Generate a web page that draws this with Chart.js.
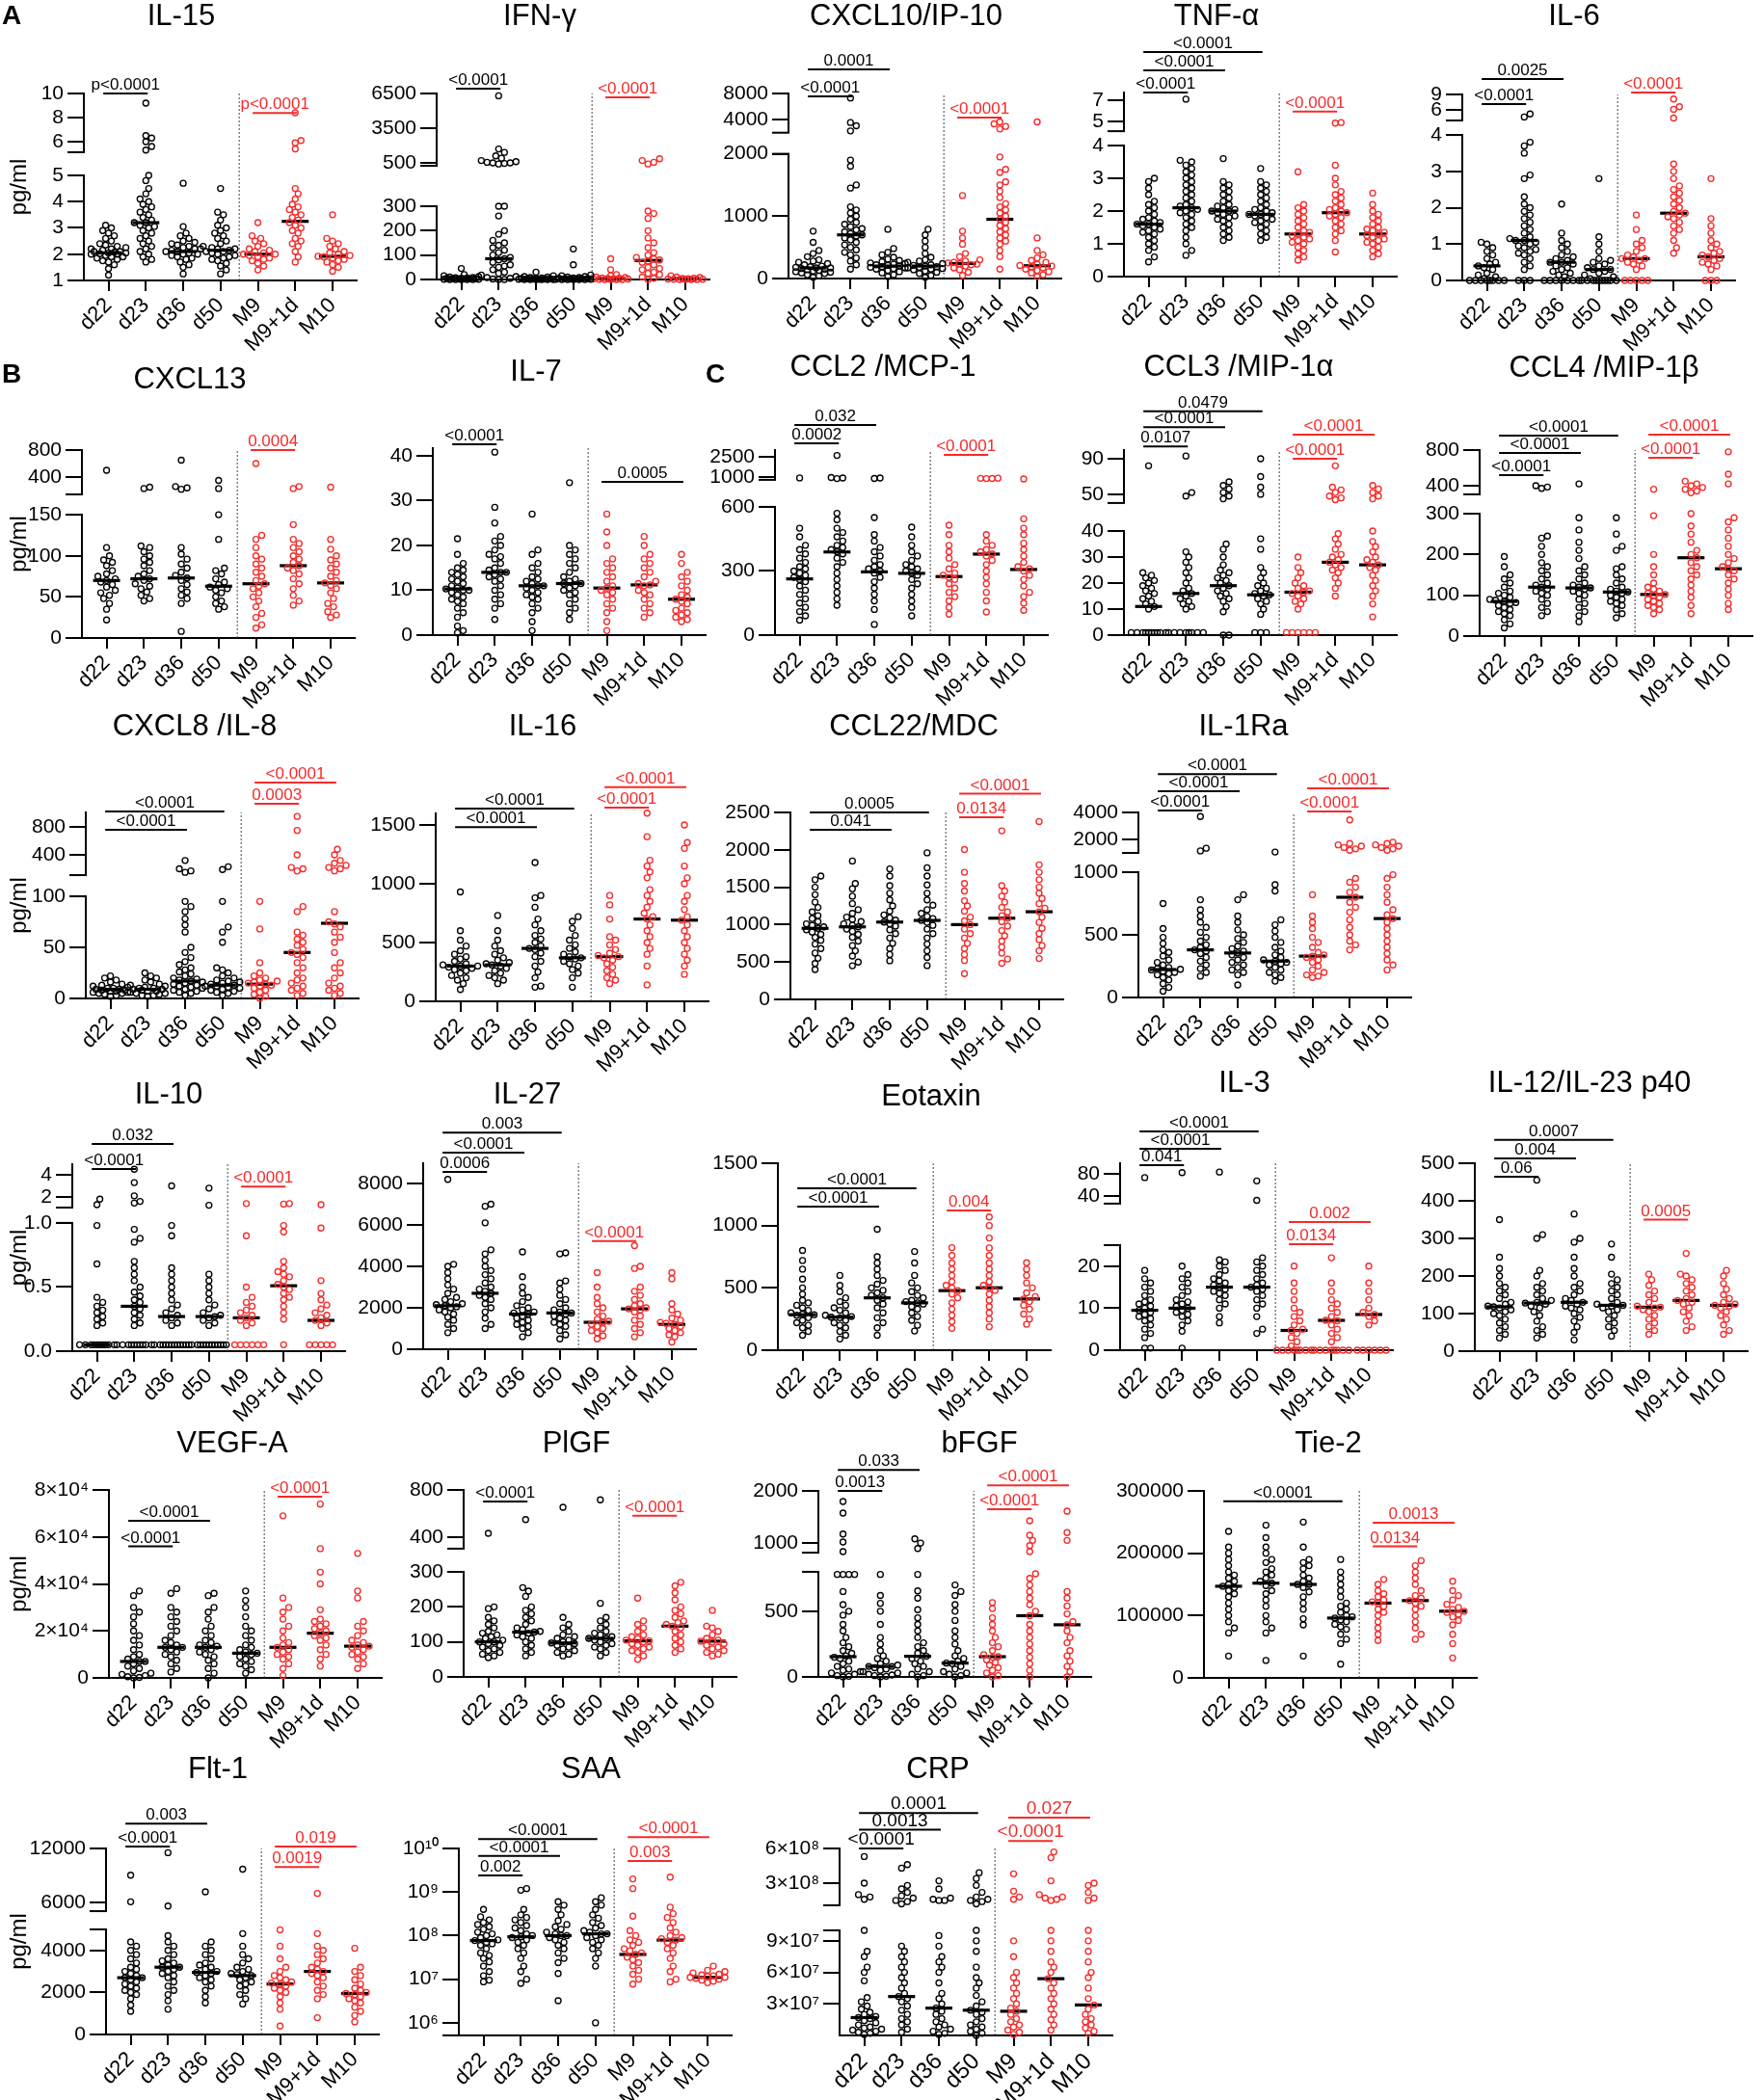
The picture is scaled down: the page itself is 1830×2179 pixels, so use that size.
<!DOCTYPE html>
<html>
<head>
<meta charset="utf-8">
<script src="https://cdn.jsdelivr.net/npm/chart.js@4.4.1/dist/chart.umd.min.js"></script>
<style>
html, body { margin: 0; padding: 0; background: #fff; }
#fig { position: relative; width: 1830px; height: 2179px; overflow: hidden; font-family: 'Liberation Sans', Arial, sans-serif; color: #000; }
#fig canvas { position: absolute; }
.ttl { position: absolute; transform: translate(-50%, -50%); font-size: 31px; white-space: nowrap; }
.let { position: absolute; transform: translate(-50%, -50%); font-size: 28px; font-weight: bold; }
</style>
</head>
<body>
<div id="fig"></div>
<script>
// groups on the x axis
const groups = ['d22', 'd23', 'd36', 'd50', 'M9', 'M9+1d', 'M10'];

// ---- values (one array per group) ----
const il15 = [
  [1.2,1.45,1.6,1.7,1.75,1.8,1.85,1.9,1.9,1.95,2.0,2.0,2.02,2.05,2.05,2.08,2.1,2.1,2.15,2.2,2.2,2.25,2.3,2.35,2.4,2.5,2.6,2.7,2.8,2.9,3.0,3.1],
  [1.7,1.8,1.9,2.0,2.1,2.2,2.3,2.4,2.5,2.6,2.7,2.8,2.9,3.0,3.05,3.1,3.2,3.2,3.3,3.4,3.5,3.6,3.7,3.8,3.9,4.0,4.1,4.3,4.5,4.8,5.0,5.3,5.6,6.0,6.3,6.5,9.2],
  [1.25,1.5,1.6,1.7,1.8,1.85,1.9,1.95,2.0,2.0,2.05,2.1,2.1,2.15,2.2,2.2,2.25,2.3,2.35,2.4,2.45,2.5,2.6,2.7,2.8,3.05,4.7],
  [1.25,1.4,1.55,1.65,1.75,1.8,1.85,1.9,1.95,2.0,2.05,2.1,2.1,2.15,2.2,2.2,2.25,2.3,2.4,2.5,2.6,2.7,2.8,2.9,3.0,3.1,3.3,3.5,3.6,4.5],
  [1.4,1.55,1.65,1.75,1.8,1.85,1.9,1.95,2.0,2.0,2.05,2.1,2.15,2.2,2.3,2.4,2.5,2.6,2.7,3.2],
  [1.7,1.9,2.1,2.3,2.4,2.5,2.6,2.8,2.9,3.0,3.1,3.2,3.3,3.4,3.5,3.6,3.7,3.8,3.9,4.1,4.3,4.5,5.4,5.9,6.1,8.4],
  [1.35,1.5,1.6,1.7,1.75,1.8,1.85,1.9,1.92,1.95,2.0,2.05,2.1,2.2,2.3,2.4,2.5,2.6,3.5]
];
const il15Med = [2.05, 3.2, 2.1, 2.15, 2.0, 3.25, 1.92];
const il15Ticks = [1, 2, 3, 4, 5, 6, 8, 10];

const ifng = [
  [0,0,0,0,0,1,1,2,2,3,3,4,5,5,6,7,8,10,12,15,20,45],
  [0,0,2,5,8,12,18,25,30,40,50,55,60,70,80,85,90,100,110,120,130,140,150,160,185,200,260,300,300,400,450,500,500,550,600,700,900,1100,1400,1700,6300],
  [0,0,0,0,0,0,1,1,2,2,3,3,4,5,6,8,10,12,15,30],
  [0,0,0,0,0,1,1,2,2,3,3,4,5,6,8,10,12,15,18,60,125],
  [0,0,0,0,1,2,2,3,4,5,6,8,10,15,20,40,85],
  [0,5,10,20,25,30,40,45,50,60,70,75,80,85,90,100,110,130,150,170,200,250,270,280,400,550,700,850],
  [0,0,0,0,1,1,2,3,4,5,8,10,15]
];
const ifngMed = [3, 85, 2, 3, 3, 78, 2];
const ifngTicks = [0, 100, 200, 300, 500, 3500, 6500];

const cxcl10 = [
  [20,40,60,80,90,100,110,120,130,140,150,160,170,170,180,190,200,220,240,260,280,300,350,400,450,580,760],
  [150,220,280,330,380,420,460,500,540,580,620,650,680,700,720,750,780,800,830,870,900,950,1000,1050,1100,1150,1450,1500,1800,1900,2200,3000,3500,7300],
  [30,60,90,110,130,150,160,170,180,190,200,210,220,230,240,250,270,290,310,340,380,420,480,790],
  [20,50,80,100,120,140,150,160,170,180,190,200,210,220,240,260,280,300,340,400,500,600,700,790],
  [50,100,140,170,200,220,230,240,250,260,280,300,350,400,550,650,760,1330],
  [150,350,450,550,600,650,700,750,800,850,900,950,1000,1050,1100,1150,1200,1300,1400,1500,1550,1700,1750,1950,2500,2900,3300,3600],
  [30,60,90,110,130,150,170,190,200,210,230,260,290,330,380,450,650,3600]
];
const cxcl10Med = [170, 700, 200, 200, 240, 950, 205];
const cxcl10Ticks = [0, 1000, 2000, 4000, 8000];

const tnfa = [
  [0.45,0.6,0.8,0.9,1.0,1.1,1.2,1.3,1.35,1.4,1.45,1.5,1.55,1.6,1.6,1.65,1.7,1.75,1.8,1.9,2.0,2.1,2.2,2.3,2.5,2.7,2.9,3.0],
  [0.65,0.8,1.0,1.2,1.4,1.5,1.6,1.7,1.8,1.9,1.95,2.0,2.05,2.1,2.15,2.2,2.3,2.4,2.5,2.6,2.7,2.8,2.9,3.0,3.1,3.2,3.3,3.4,3.5,3.55,7.1],
  [1.1,1.2,1.3,1.4,1.5,1.6,1.7,1.75,1.8,1.85,1.9,1.95,2.0,2.0,2.05,2.1,2.15,2.2,2.3,2.4,2.5,2.6,2.7,2.8,2.9,3.6],
  [1.1,1.2,1.3,1.4,1.5,1.6,1.65,1.7,1.75,1.8,1.85,1.9,1.9,1.95,2.0,2.05,2.1,2.2,2.3,2.4,2.5,2.6,2.7,2.8,2.9,3.3],
  [0.5,0.6,0.7,0.8,0.9,1.0,1.05,1.1,1.15,1.2,1.25,1.3,1.35,1.4,1.5,1.6,1.7,1.8,1.9,2.0,2.1,2.2,3.2],
  [0.75,1.1,1.3,1.4,1.5,1.6,1.7,1.8,1.85,1.9,1.95,2.0,2.05,2.1,2.2,2.3,2.4,2.5,2.6,2.8,3.0,3.4,4.85,4.9],
  [0.6,0.7,0.8,0.9,1.0,1.05,1.1,1.15,1.2,1.25,1.3,1.35,1.4,1.45,1.5,1.6,1.7,1.8,1.9,2.0,2.2,2.55]
];
const tnfaMed = [1.6, 2.1, 2.0, 1.9, 1.3, 1.95, 1.3];
const tnfaTicks = [0, 1, 2, 3, 4, 5, 7];

const il6 = [
  [0,0,0,0,0,0,0,0,0.05,0.1,0.15,0.2,0.3,0.35,0.4,0.45,0.5,0.6,0.7,0.8,0.9,1.0,1.05],
  [0,0,0,0.3,0.4,0.5,0.6,0.7,0.75,0.8,0.85,0.9,0.95,1.0,1.05,1.1,1.1,1.15,1.2,1.3,1.4,1.5,1.6,1.7,1.8,1.9,2.0,2.1,2.3,2.8,2.9,3.5,3.7,3.8,4.6,5.2],
  [0,0,0,0,0,0,0,0.1,0.15,0.2,0.25,0.3,0.35,0.4,0.45,0.5,0.5,0.55,0.6,0.65,0.7,0.8,0.9,1.0,1.1,1.3,2.1],
  [0,0,0,0,0,0,0,0,0,0,0.05,0.1,0.15,0.2,0.25,0.3,0.3,0.35,0.4,0.45,0.5,0.55,0.6,0.8,1.0,1.2,2.8],
  [0,0,0,0,0,0.3,0.4,0.45,0.5,0.55,0.6,0.6,0.65,0.7,0.8,0.9,1.0,1.1,1.4,1.8],
  [0.75,0.9,1.1,1.3,1.4,1.5,1.6,1.7,1.75,1.8,1.85,1.9,2.0,2.1,2.2,2.3,2.4,2.5,2.6,2.8,3.0,3.2,4.4,6.1,6.6,8.1],
  [0,0,0,0.3,0.4,0.45,0.5,0.55,0.6,0.65,0.7,0.75,0.8,0.9,1.0,1.1,1.3,1.5,1.7,2.8]
];
const il6Med = [0.4, 1.1, 0.5, 0.3, 0.6, 1.85, 0.65];
const il6Ticks = [0, 1, 2, 3, 4, 6, 9];

const cxcl13 = [
  [22,35,42,48,52,55,58,62,65,68,70,72,75,78,82,88,92,95,100,110,500],
  [45,48,52,56,60,63,66,70,72,75,78,82,88,92,96,100,105,110,112,230,250],
  [8,42,48,52,56,60,65,70,73,76,80,85,90,96,102,110,220,240,260,650],
  [35,38,42,45,50,55,58,60,62,65,68,72,78,82,85,120,150,230,350],
  [12,16,25,30,38,45,50,55,60,63,66,70,75,80,85,90,96,100,110,120,125,600],
  [40,45,52,60,66,72,78,82,85,88,92,96,100,105,110,115,120,138,230,260],
  [25,28,32,38,42,48,55,60,64,67,70,75,80,85,90,95,100,108,120,250]
];
const cxcl13Med = [70, 72, 73, 63, 66, 88, 67];
const cxcl13Ticks = [0, 50, 100, 150, 400, 800];

const il7 = [
  [0.5,1,2,4,5,6,7,7.5,8,8.5,9,9.5,10,10,10.3,10.5,11,11.5,12,12.5,13,13.5,14,14.5,15,16,18,21.5],
  [3.5,6,7,8,9,10,11,12,12.5,13,13.5,14,14,14.5,15,16,17,17.5,18,19,20,21,22,25,28.5,40.8],
  [1,3,5,6,7,8,8.5,9,9.5,10,10.5,11,11,11.5,12,12.5,13,14,15,16,18,19,27],
  [3.5,5,6,7,8,9,9.5,10,10.5,11,11.5,11.5,12,12.5,13,14,15,16,17,18,19,20,34],
  [1,3,5,6,7,8,9,9.5,10,10.5,11,12,13,14,15,16,17,20,23,27],
  [4,5,6,7,8,9,9.5,10,11,11.2,11.5,12,13,14,15,16,17,18,20,22],
  [3,3.5,4,4.5,5,5.5,6,7,7.5,8,8.5,9,10,11,12,13,14,16,18]
];
const il7Med = [10.3, 14, 11, 11.5, 10.5, 11.2, 8];
const il7Ticks = [0, 10, 20, 30, 40];

const ccl2 = [
  [70,90,110,130,150,170,190,210,230,250,260,270,280,290,300,310,320,340,360,380,400,420,460,500,930],
  [140,170,200,230,260,290,320,340,360,380,390,400,410,420,440,460,480,500,540,570,880,920,960,2600],
  [50,120,160,190,220,250,270,290,300,310,320,330,350,370,390,410,440,470,550,890,920],
  [90,130,160,190,220,240,260,280,290,300,310,320,330,350,370,390,420,460,505],
  [98,130,160,180,200,220,240,260,270,280,290,310,330,360,390,420,470,514],
  [108,160,200,240,270,300,330,350,370,380,390,400,420,440,470,880,890,900,910],
  [116,150,180,200,230,260,280,300,310,320,340,370,400,430,470,500,544,850]
];
const ccl2Med = [263, 389, 296, 289, 274, 379, 307];
const ccl2Ticks = [0, 300, 600, 1000, 2500];

const ccl3 = [
  [1,1,1,1,1,1,1,1,1,1,10,11,12,13,14,15,16,17,18,19,20,21,22,23,24,82],
  [1,1,1,1,1,1,1,1,10,11,12,13,14,15,16,17,18,20,22,24,26,28,30,32,48,52,93],
  [0,0,9,11,13,14,15,16,17,18,19,20,21,22,23,24,25,27,30,33,35,45,48,52,56,60,64],
  [1,1,1,8,10,12,13,14,15,15.5,16,17,18,19,20,22,24,26,33,37,50,58,70,90],
  [1,1,1,1,1,1,10,12,13,14,15,16,16.5,17,18,19,20,22,24,26,30],
  [15,18,20,22,24,25,26,27,28,29,30,31,33,35,37,39,44,46,48,52,55,58,82],
  [7,12,15,17,19,21,23,25,26,27,28,29,30,32,34,36,40,45,48,52,56,60]
];
const ccl3Med = [11, 16, 19, 15.5, 16.5, 28, 27];
const ccl3Ticks = [0, 10, 20, 30, 40, 50, 90];

const ccl4 = [
  [20,30,40,50,55,60,65,70,75,80,82,85,88,90,95,100,105,110,120,130,140,150,170,195],
  [50,60,70,80,90,100,105,110,115,120,125,130,140,150,160,170,180,200,220,240,245,370,385,400],
  [35,50,60,70,80,90,100,105,110,115,118,120,125,130,140,150,160,170,190,210,230,260,290,420],
  [45,55,65,75,80,85,90,95,100,105,108,110,115,120,130,140,150,165,170,210,220,250,290],
  [55,65,70,75,80,85,90,95,100,102,105,110,115,120,130,150,170,200,295,360],
  [55,75,95,110,125,140,150,160,170,180,192,200,210,230,250,270,300,320,340,360,380,400,420,450],
  [65,80,100,115,130,140,150,160,165,170,180,190,200,220,240,260,280,290,420,530,780]
];
const ccl4Med = [85, 120, 118, 108, 102, 192, 165];
const ccl4Ticks = [0, 100, 200, 300, 400, 800];

const cxcl8 = [
  [2,3,4,5,5,6,6,7,7,8,8,9,9,10,10,11,12,13,14,16,18,20,22],
  [2,3,3,4,5,5,6,7,7,8,9,9,10,10,11,12,13,14,16,18,20,22,25],
  [3,5,6,7,8,9,10,11,12,13,14,15,16,17,18,19,20,22,24,26,28,30,33,36,40,45,50,65,72,78,85,90,95,150,170,200,320],
  [3,5,6,7,8,9,10,11,12,12,13,14,15,16,17,18,20,22,25,28,30,55,65,70,95,190,230],
  [0,2,4,6,8,10,12,13,14,15,16,17,18,20,22,25,35,68,95],
  [3,5,8,10,12,15,18,20,25,30,35,40,43,45,48,52,55,58,62,65,85,90,170,200,220,400,750,950],
  [3,5,8,10,12,15,20,25,30,35,45,55,60,65,70,73,75,85,170,200,220,250,280,320,400,480]
];
const cxcl8Med = [9, 9, 17, 13, 14, 45, 73.6];
const cxcl8Ticks = [0, 50, 100, 400, 800];

const il16 = [
  [100,150,180,200,220,240,260,270,280,290,300,300,310,320,340,360,380,400,430,470,520,600,930],
  [150,180,200,220,240,260,280,300,310,320,330,350,370,400,430,470,520,600,730],
  [120,130,200,250,300,340,380,410,440,450,470,500,530,560,600,650,700,800,880,900,1180],
  [120,200,240,270,300,320,340,360,370,380,400,420,450,480,520,560,620,680,720],
  [150,180,200,230,260,290,320,350,370,380,390,410,440,480,520,550,700,820,900],
  [140,300,400,450,500,550,600,650,700,720,750,800,850,900,950,1050,1100,1150,1200,1400,1600],
  [230,300,350,400,450,500,550,600,650,690,720,780,850,900,1000,1050,1150,1300,1350,1500]
];
const il16Med = [300, 310, 450, 370, 380, 700, 690];
const il16Ticks = [0, 500, 1000, 1500];

const ccl22 = [
  [400,480,550,620,680,740,790,830,870,900,930,950,970,990,1010,1040,1080,1120,1170,1230,1300,1400,1500,1600,1650],
  [450,500,580,650,720,780,830,870,910,940,970,990,1010,1040,1070,1100,1150,1200,1280,1380,1480,1550,1850],
  [517,600,680,750,820,880,930,980,1010,1034,1060,1090,1130,1180,1250,1330,1420,1520,1650,1745],
  [452,560,650,740,820,880,940,990,1030,1056,1080,1110,1150,1200,1260,1330,1420,1530,1650,1760,1960],
  [345,520,600,680,750,820,880,940,1000,1050,1100,1180,1250,1320,1450,1550,1700,2004],
  [483,540,620,700,780,850,920,980,1040,1086,1120,1170,1230,1300,1380,1450,1520,2254],
  [547,650,720,800,880,950,1030,1100,1172,1220,1280,1350,1420,1500,1600,1700,1800,2379]
];
const ccl22Med = [950, 970, 1034, 1056, 1000, 1086, 1172];
const ccl22Ticks = [0, 500, 1000, 1500, 2000, 2500];

const il1ra = [
  [50,80,110,140,160,180,190,200,210,220,225,230,240,260,280,300,330,360,380,430,480,550,750],
  [170,200,230,260,290,320,350,370,380,400,420,450,480,520,560,600,650,700,780,1150,1350,3700],
  [100,180,200,220,240,260,280,300,320,340,355,370,390,410,440,470,500,540,600,650,780,820],
  [130,160,180,200,220,240,260,270,280,290,300,320,340,370,400,440,480,530,580,620,850,900,1070],
  [160,170,180,200,220,250,280,300,320,330,340,360,400,440,480,550,600,650,820],
  [380,420,450,500,560,620,680,720,760,800,840,880,920,950,1200,1300,1400,1500,1600,1700,3450],
  [220,260,300,350,400,450,500,550,600,630,660,700,760,820,880,950,980,1200,1300,1400,1500,1600,1700,1800]
];
const il1raMed = [223, 380, 355, 290, 330, 800, 630];
const il1raTicks = [0, 500, 1000, 2000, 4000];

const il10 = [
  [0.05,0.05,0.05,0.05,0.05,0.05,0.05,0.05,0.05,0.05,0.2,0.22,0.25,0.27,0.3,0.32,0.35,0.38,0.42,0.68,0.98,1.3,1.8],
  [0.05,0.05,0.05,0.05,0.05,0.05,0.05,0.05,0.05,0.05,0.2,0.22,0.25,0.28,0.3,0.33,0.35,0.38,0.4,0.43,0.46,0.5,0.55,0.6,0.65,0.7,0.85,0.88,0.95,1.45,1.6,2.1,3.3,4.5],
  [0.05,0.05,0.05,0.05,0.05,0.05,0.05,0.05,0.05,0.05,0.05,0.05,0.2,0.22,0.24,0.26,0.28,0.3,0.33,0.36,0.4,0.45,0.5,0.55,0.6,0.65,0.9,0.98,3.0],
  [0.05,0.05,0.05,0.05,0.05,0.05,0.05,0.05,0.05,0.05,0.05,0.05,0.2,0.22,0.24,0.26,0.27,0.28,0.3,0.33,0.36,0.4,0.45,0.5,0.55,0.6,1.25,2.8],
  [0.05,0.05,0.05,0.05,0.05,0.05,0.2,0.22,0.24,0.26,0.28,0.3,0.32,0.35,0.38,0.42,0.5,0.9,1.4],
  [0.05,0.25,0.3,0.35,0.4,0.42,0.45,0.48,0.5,0.52,0.55,0.58,0.6,0.62,0.65,0.7,0.93,0.98,1.35,1.4],
  [0.05,0.05,0.05,0.05,0.05,0.2,0.22,0.24,0.26,0.28,0.3,0.33,0.36,0.4,0.45,0.55,0.96,1.3]
];
const il10Med = [0.05, 0.35, 0.27, 0.27, 0.26, 0.51, 0.24];
const il10Ticks = [0, 0.5, 1, 2, 4];
const il10Labels = ['0.0', '0.5', '1.0', '2', '4'];

const il27 = [
  [800,1000,1200,1400,1550,1700,1800,1900,2000,2050,2100,2150,2200,2300,2400,2500,2700,2900,3100,3400,3700,4000,4100,8200],
  [1000,1200,1500,1800,2000,2200,2400,2500,2600,2700,2800,2900,3000,3200,3400,3600,3800,4000,4300,4600,4800,6100,6900,7000],
  [600,800,1000,1100,1200,1300,1400,1500,1600,1700,1750,1800,1900,2000,2100,2300,2500,2700,3000,3500,4700],
  [500,700,900,1100,1200,1300,1400,1500,1600,1700,1750,1800,1900,2000,2200,2400,2600,2900,3200,3300,4600,4650],
  [500,650,800,900,1000,1100,1200,1300,1350,1450,1600,1800,2000,2200,2500,3000,3700],
  [600,800,1000,1200,1400,1600,1800,1900,1950,2000,2100,2200,2400,2600,2800,3000,3900,4000,5000],
  [350,600,700,800,900,1000,1100,1200,1250,1300,1400,1500,1700,1900,2200,3400,3700]
];
const il27Med = [2100, 2700, 1700, 1750, 1300, 1950, 1200];
const il27Ticks = [0, 2000, 4000, 6000, 8000];

const eotaxin = [
  [120,150,180,200,220,240,260,280,285,290,300,320,340,360,380,400,450,500,570,650,720,800],
  [90,120,150,180,200,220,240,260,265,270,280,300,320,340,360,390,420,470,520,600],
  [120,180,220,260,300,340,370,400,420,440,460,480,500,530,560,600,650,700,750,970],
  [154,200,240,270,300,330,350,370,380,390,400,420,440,470,500,540,600,700,792],
  [175,230,280,330,380,420,450,478,500,520,550,600,650,700,760,823],
  [188,250,300,350,400,450,480,501,520,550,600,650,700,760,820,900,1000,1069],
  [208,250,290,330,360,390,411,430,460,500,540,600,650,702]
];
const eotaxinMed = [285, 265, 420, 380, 478, 501, 411];
const eotaxinTicks = [0, 500, 1000, 1500];

const il3 = [
  [0.5,0.5,3,4,5,6,7,7.5,8,8.5,9,9.5,10,10.5,11,11.5,12,13,14,15,16,17,19,73],
  [0.5,4.5,6,7,8,8.5,9,9.5,10,10.5,11,11.5,12,13,14,15,16,17,18,20,82],
  [6.5,8,10,11,12,13,13.5,14,14.5,15,15.5,16,16.5,17,18,19,20,21,21.5,83],
  [4,5,8,10,11,12,13,14,14.5,15,15.5,16,17,18,19,20,21,22,32,67],
  [0,0,0,0,0,0,0,0,1,2,3,4,4.7,5,6,7,8,9,10,12,14,16,20],
  [0,0,0,0,0,0,0,0,2,3,4,5,6,7,7.1,8,9,10,11,12,14,16,22],
  [0,0,0,0,0,0,6,7,8,8.5,9,10,12,14,16,20]
];
const il3Med = [9.5, 10, 15, 15, 4.7, 7.1, 8.5];
const il3Ticks = [0, 10, 20, 40, 80];

const il12 = [
  [35,45,55,65,75,85,95,100,105,110,115,118,120,125,130,140,150,160,170,180,200,220,250,350],
  [35,45,55,65,80,95,105,115,120,125,128,130,135,140,150,160,170,180,200,215,300,310,455],
  [30,50,65,80,90,100,110,115,120,125,130,135,140,150,160,170,180,200,220,250,290,300,365],
  [40,55,65,75,85,95,105,110,115,120,122,125,130,140,150,160,170,180,190,205,250,285],
  [45,55,65,75,85,95,105,110,115,117,120,130,140,150,160,175,190,205],
  [55,65,80,95,105,115,125,130,135,140,150,160,170,180,190,200,205,260],
  [45,55,70,85,95,105,115,120,122,125,130,140,150,165,180,200,215]
];
const il12Med = [118, 128, 130, 122, 117, 135, 122];
const il12Ticks = [0, 100, 200, 300, 400, 500];

const vegfa = [
  [0,200,500,1000,1500,2000,3000,4000,5000,6000,7000,7000,8000,9000,10000,12000,14000,16000,18000,20000,23000,26000,28000,30000,35000,37000],
  [2500,4000,6000,7500,9000,10000,11000,12000,13000,13000,14000,15000,16000,18000,20000,22000,24000,26000,28000,30000,36000,38000],
  [0,2000,4000,6000,7500,9000,10000,11000,12000,13000,13500,14000,15000,16000,18000,20000,22000,25000,28000,30000,35000,36000],
  [2000,3500,5000,6000,7000,8000,9000,10000,10500,11000,12000,13000,14000,16000,18000,20000,22000,26000,30000,33000,37000],
  [1000,4000,6000,8000,9000,10000,11000,12000,13000,14000,15000,17000,20000,22000,25000,28000,30000,34000,69000],
  [5000,8000,10000,12000,14000,16000,17000,18000,19000,20000,21000,22000,23000,24000,25000,29000,40000,45000,55000,74000],
  [4000,6000,8000,9000,10000,11000,12000,13000,13500,14000,15000,16000,18000,20000,22000,24000,34000,37000,53000]
];
const vegfaMed = [7000, 13000, 13000, 10500, 13000, 19000, 13500];
const vegfaTicks = [0, 20000, 40000, 60000, 80000];
const vegfaLabels = ['0', '2×10⁴', '4×10⁴', '6×10⁴', '8×10⁴'];

const plgf = [
  [55,60,65,70,75,80,85,90,95,100,100,105,110,115,120,125,130,140,150,160,170,195,200,432],
  [60,70,80,90,100,110,115,120,125,128,130,135,140,150,160,170,180,190,200,230,245,255,549],
  [60,65,70,75,80,85,90,95,97,100,105,110,115,120,130,140,150,170,653],
  [60,70,80,85,90,95,100,105,110,110,115,120,125,130,140,150,160,170,210,716],
  [50,60,70,75,80,85,90,95,100,103,105,110,115,120,130,140,150,160,225],
  [70,80,90,100,110,120,130,140,145,150,155,160,170,180,190,200,220,240,260,270],
  [60,65,70,75,80,85,90,95,100,102,105,110,120,130,140,145,190]
];
const plgfMed = [100, 128, 97, 110, 103, 145, 102];
const plgfTicks = [0, 100, 200, 300, 400, 800];

const bfgf = [
  [0,5,10,20,30,40,50,60,80,100,120,140,150,160,180,200,230,260,300,350,400,470,500,550,650,780,780,780,780,834,1019,1172,1574,1796],
  [0,5,10,15,20,30,40,50,60,70,80,80,90,100,120,140,160,200,250,300,400,500,560,620,780],
  [0,10,20,40,60,80,100,120,140,157,180,200,230,260,300,350,400,450,512,600,655,780,895,1000,1080],
  [0,10,20,30,40,60,80,100,105,120,140,160,200,250,300,350,430,500,550,620,650,700],
  [0,10,30,50,70,90,110,130,150,154,170,200,230,260,300,350,400,450,520,566],
  [0,50,100,150,200,250,300,350,400,466,500,550,600,650,700,750,785,834,950,1050,1150,1426],
  [0,40,80,120,160,200,260,300,350,397,420,480,540,600,650,1050,1200,1611]
];
const bfgfMed = [154, 80, 157, 105, 154, 466, 397];
const bfgfTicks = [0, 500, 1000, 2000];

const tie2 = [
  [35000,72000,80000,90000,100000,110000,120000,130000,135000,140000,145000,147000,150000,155000,160000,165000,170000,180000,190000,200000,210000,235000],
  [28000,72000,80000,90000,100000,115000,125000,135000,140000,148000,152000,155000,160000,165000,170000,175000,185000,190000,200000,210000,225000,245000],
  [35000,85000,95000,110000,120000,130000,138000,145000,150000,150000,155000,160000,165000,175000,180000,185000,190000,210000,250000],
  [22000,55000,62000,70000,78000,82000,86000,90000,93000,96000,98000,100000,105000,110000,115000,120000,130000,140000,150000,160000,170000,190000],
  [60000,70000,80000,90000,100000,105000,110000,115000,120000,122000,125000,130000,135000,140000,150000,158000],
  [62000,70000,80000,90000,100000,110000,115000,120000,124000,128000,132000,140000,150000,160000,170000,180000,188000],
  [32000,55000,70000,85000,92000,98000,102000,105000,107000,110000,113000,118000,125000,132000,140000,155000]
];
const tie2Med = [147000, 152000, 150000, 96000, 120000, 124000, 107000];
const tie2Ticks = [0, 100000, 200000, 300000];

const flt1 = [
  [1100,1400,1700,1900,2000,2100,2200,2300,2400,2500,2600,2700,2700,2800,2900,3000,3100,3200,3400,3600,3800,4000,4200,4400,6074,9027],
  [1200,1600,1900,2100,2300,2500,2700,2800,2900,3000,3100,3200,3200,3300,3400,3500,3600,3800,4000,4200,4400,4700,5600,11530],
  [1500,1800,2100,2300,2500,2600,2700,2800,2900,2950,3000,3100,3200,3300,3400,3600,3800,4000,4200,4400,7180],
  [1450,1700,1900,2100,2300,2400,2500,2600,2700,2800,2850,2900,3000,3100,3200,3400,3600,3800,4200,4800,9700],
  [400,1200,1500,1800,2000,2100,2200,2300,2400,2450,2500,2600,2700,2800,3000,3200,3600,4200,4980],
  [800,1700,1900,2100,2300,2500,2700,2800,2900,3000,3100,3200,3400,3600,3800,4000,4200,4800,7000],
  [600,900,1100,1300,1500,1600,1700,1800,1900,1950,2000,2100,2200,2400,2600,2800,3000,3200,4100]
];
const flt1Med = [2700, 3200, 2950, 2800, 2400, 3000, 1950];
const flt1Ticks = [0, 2000, 4000, 6000, 12000];

const saa = [
  [8.7e6,9.5e6,1.2e7,1.5e7,2e7,2.5e7,3e7,3.5e7,4e7,5e7,6e7,6.5e7,7e7,7.7e7,8e7,9e7,1e8,1.1e8,1.2e8,1.4e8,1.6e8,1.8e8,2e8,2.3e8,2.7e8,4e8],
  [8e6,1e7,1.5e7,2e7,3e7,4e7,5e7,6e7,7e7,8e7,9e7,9.4e7,1e8,1.1e8,1.3e8,1.5e8,1.7e8,2e8,2.3e8,2.6e8,3e8,4e8,1.1e9,1.2e9],
  [3.2e6,1.35e7,2.4e7,3e7,4e7,5e7,6e7,7e7,8e7,9e7,1e8,1e8,1.1e8,1.2e8,1.4e8,1.6e8,1.8e8,2.2e8,3e8,4e8,5e8,6e8],
  [1e6,2e7,3e7,4e7,5e7,6e7,7e7,8e7,9e7,1e8,1.1e8,1.1e8,1.2e8,1.3e8,1.5e8,1.7e8,2e8,2.5e8,3e8,4e8,5e8,6e8,7.4e8],
  [7.7e6,1e7,1.3e7,1.6e7,2e7,2.4e7,2.8e7,3.2e7,3.7e7,4e7,4.5e7,5e7,6e7,7e7,8e7,1e8,1.3e8,2.8e8,1.2e9,2e9],
  [8.7e6,1e7,1.5e7,2e7,3e7,4e7,5e7,6e7,7e7,7.9e7,8.5e7,9e7,1e8,1.2e8,1.5e8,2e8,2.6e8,3.2e8,4.5e8,2.2e9],
  [8.3e6,9e6,9.5e6,1e7,1.05e7,1.1e7,1.1e7,1.15e7,1.2e7,1.25e7,1.3e7,1.4e7,1.5e7,1.6e7,2e7]
];
const saaMed = [7.7e7, 9.4e7, 1e8, 1.1e8, 3.7e7, 7.9e7, 1.1e7];
const saaTicks = [1e6, 1e7, 1e8, 1e9, 1e10];
const saaLabels = ['10⁶', '10⁷', '10⁸', '10⁹', '10¹⁰'];

const crp = [
  [1e6,2e6,3e6,4e6,5e6,6e6,7e6,8e6,1e7,1.2e7,1.4e7,1.6e7,1.7e7,1.8e7,2e7,2.2e7,2.5e7,2.8e7,3.2e7,3.6e7,5.2e7,6e7,6.5e7,7.5e7,8e7,1e8,1.6e8,1.8e8,2e8,3e8,5.3e8],
  [3e6,6e6,1e7,1.3e7,1.6e7,2e7,2.4e7,2.8e7,3.2e7,3.5e7,3.7e7,4e7,4.5e7,5e7,5.5e7,6e7,6.5e7,7e7,7.5e7,8e7,8.5e7,1.2e8,1.4e8,1.5e8,1.7e8,1.9e8,2.2e8,2.5e8,2.8e8,4.3e8,4.6e8],
  [1e6,2e6,4e6,6e6,8e6,1e7,1.3e7,1.6e7,2e7,2.3e7,2.6e7,3e7,3.5e7,4e7,5e7,6e7,6.5e7,7e7,7.5e7,8.5e7,9.5e7,1.5e8,1.5e8,1.6e8,1.7e8,2.5e8,3.2e8],
  [0,2e6,4e6,6e6,8e6,1e7,1.3e7,1.6e7,2e7,2.2e7,2.4e7,2.8e7,3.2e7,3.8e7,4.5e7,5e7,5.5e7,6.5e7,8e7,9e7,1e8,1.2e8,1.4e8,1.5e8,1.6e8,1.8e8,2.2e8,2.8e8,3.4e8,3.9e8],
  [1e6,3e6,5e6,8e6,1e7,1.3e7,1.6e7,2e7,2.3e7,2.6e7,3e7,3.5e7,4e7,4.5e7,5e7,5.5e7,6e7,7.5e7,9e7,1.6e8,1.8e8,2.3e8,3.8e8],
  [5e6,1e7,1.5e7,2e7,2.5e7,3e7,3.5e7,4e7,4.5e7,5e7,5.4e7,6e7,6.5e7,7e7,8e7,9e7,1e8,1.5e8,1.6e8,1.7e8,1.8e8,2e8,3.2e8,5.2e8,5.7e8],
  [2e6,4e6,7e6,1e7,1.3e7,1.6e7,2e7,2.5e7,2.9e7,3.5e7,4.5e7,5.5e7,6e7,7e7,8e7,9e7,1e8,1.5e8,1.7e8,2.2e8,2.8e8,3e8]
];
const crpMed = [1.7e7, 3.7e7, 2.6e7, 2.4e7, 2.3e7, 5.4e7, 2.9e7];
const crpTicks = [3e7, 6e7, 9e7, 3e8, 6e8];
const crpLabels = ['3×10⁷', '6×10⁷', '9×10⁷', '3×10⁸', '6×10⁸'];

// ---- layout: axis segments are [from, to, fracStart, fracEnd] ----
const panels = [
  {t:'IL-15', tx:188, ty:16, ax:87, top:97, bot:291, d:il15, m:il15Med, tk:il15Ticks, yt:true,
   segs:[[1,5,0,0.562],[5.13,10,0.686,1]], sig:[[0,1,1.0,'p<0.0001','k'],[4,5,0.896,'p<0.0001','r']]},
  {t:'IFN-γ', tx:560, ty:16, ax:453, top:97, bot:290, d:ifng, m:ifngMed, tk:ifngTicks,
   segs:[[0,300,0,0.394],[243,6500,0.611,1]], sig:[[0,1,1.026,'<0.0001','k'],[4,5,0.979,'<0.0001','r']]},
  {t:'CXCL10/IP-10', tx:940, ty:16, ax:818, top:97, bot:289, d:cxcl10, m:cxcl10Med, tk:cxcl10Ticks,
   segs:[[0,2000,0,0.674],[1926,8000,0.788,1]], sig:[[0,1,0.984,'<0.0001','k'],[0,2,1.13,'0.0001','k'],[4,5,0.87,'<0.0001','r']]},
  {t:'TNF-α', tx:1262, ty:16, ax:1166, top:96, bot:287, d:tnfa, m:tnfaMed, tk:tnfaTicks,
   segs:[[0,4,0,0.712],[4.09,7.73,0.79,1]], sig:[[0,1,1.0,'<0.0001','k'],[0,2,1.12,'<0.0001','k'],[0,3,1.22,'<0.0001','k'],[4,5,0.896,'<0.0001','r']]},
  {t:'IL-6', tx:1633, ty:16, ax:1517, top:98, bot:291, d:il6, m:il6Med, tk:il6Ticks,
   segs:[[0,4,0,0.782],[3.92,9,0.86,1]], sig:[[0,1,0.948,'<0.0001','k'],[0,2,1.083,'0.0025','k'],[4,5,1.01,'<0.0001','r']]},

  {t:'CXCL13', tx:197, ty:393, ax:85, top:467, bot:662, d:cxcl13, m:cxcl13Med, tk:cxcl13Ticks, yt:true,
   segs:[[0,150,0,0.656],[143,800,0.764,1]], sig:[[4,5,1.0,'0.0004','r']]},
  {t:'IL-7', tx:556, ty:385, ax:449, top:465, bot:659, d:il7, m:il7Med, tk:il7Ticks,
   segs:[[0,41.7,0,1]], sig:[[0,1,1.02,'<0.0001','k'],[4,6,0.82,'0.0005','k']]},
  {t:'CCL2 /MCP-1', tx:916, ty:380, ax:804, top:467, bot:659, d:ccl2, m:ccl2Med, tk:ccl2Ticks,
   segs:[[0,600,0,0.693],[786,3000,0.839,1]], sig:[[0,1,1.036,'0.0002','k'],[0,2,1.135,'0.032','k'],[4,5,0.974,'<0.0001','r']]},
  {t:'CCL3 /MIP-1α', tx:1285, ty:380, ax:1166, top:467, bot:659, d:ccl3, m:ccl3Med, tk:ccl3Ticks,
   segs:[[0,40,0,0.5625],[40.3,99.7,0.714,1]], sig:[[0,1,1.02,'0.0107','k'],[0,2,1.124,'<0.0001','k'],[0,3,1.21,'0.0479','k'],[4,5,0.953,'<0.0001','r'],[4,6,1.083,'<0.0001','r']]},
  {t:'CCL4 /MIP-1β', tx:1664, ty:381, ax:1535, top:467, bot:660, d:ccl4, m:ccl4Med, tk:ccl4Ticks,
   segs:[[0,300,0,0.658],[303,800,0.762,1]], sig:[[0,1,0.865,'<0.0001','k'],[0,2,0.984,'<0.0001','k'],[0,3,1.078,'<0.0001','k'],[4,5,0.958,'<0.0001','r'],[4,6,1.083,'<0.0001','r']]},

  {t:'CXCL8 /IL-8', tx:202, ty:753, ax:89, top:843, bot:1036, d:cxcl8, m:cxcl8Med, tk:cxcl8Ticks, yt:true,
   segs:[[0,100,0,0.549],[110,1007,0.663,1]], sig:[[0,2,0.907,'<0.0001','k'],[0,3,1.005,'<0.0001','k'],[4,5,1.047,'0.0003','r'],[4,6,1.16,'<0.0001','r']]},
  {t:'IL-16', tx:563, ty:753, ax:452, top:844, bot:1039, d:il16, m:il16Med, tk:il16Ticks,
   segs:[[0,1598,0,1]], sig:[[0,2,0.927,'<0.0001','k'],[0,3,1.026,'<0.0001','k'],[4,5,1.031,'<0.0001','r'],[4,6,1.14,'<0.0001','r']]},
  {t:'CCL22/MDC', tx:948, ty:753, ax:820, top:843, bot:1037, d:ccl22, m:ccl22Med, tk:ccl22Ticks,
   segs:[[0,2500,0,1]], sig:[[0,2,0.907,'0.041','k'],[0,3,1.0,'0.0005','k'],[4,5,0.974,'0.0134','r'],[4,6,1.10,'<0.0001','r']]},
  {t:'IL-1Ra', tx:1290, ty:753, ax:1181, top:843, bot:1035, d:il1ra, m:il1raMed, tk:il1raTicks,
   segs:[[0,1000,0,0.677],[1000,4000,0.781,1]], sig:[[0,1,1.01,'<0.0001','k'],[0,2,1.114,'<0.0001','k'],[0,3,1.207,'<0.0001','k'],[4,5,1.005,'<0.0001','r'],[4,6,1.13,'<0.0001','r']]},

  {t:'IL-10', tx:175, ty:1135, ax:75, top:1208, bot:1402, d:il10, m:il10Med, tk:il10Ticks, lb:il10Labels, yt:true,
   segs:[[0,1,0,0.686],[1.04,4.96,0.768,1]], sig:[[0,1,0.974,'<0.0001','k'],[0,2,1.108,'0.032','k'],[4,5,0.88,'<0.0001','r']]},
  {t:'IL-27', tx:547, ty:1135, ax:439, top:1207, bot:1400, d:il27, m:il27Med, tk:il27Ticks,
   segs:[[0,8977,0,1]], sig:[[0,1,0.954,'0.0006','k'],[0,2,1.057,'<0.0001','k'],[0,3,1.165,'0.003','k'],[4,5,0.582,'<0.0001','r']]},
  {t:'Eotaxin', tx:966, ty:1137, ax:807, top:1207, bot:1401, d:eotaxin, m:eotaxinMed, tk:eotaxinTicks,
   segs:[[0,1500,0,1]], sig:[[0,2,0.768,'<0.0001','k'],[0,3,0.866,'<0.0001','k'],[4,5,0.747,'0.004','r']]},
  {t:'IL-3', tx:1291, ty:1123, ax:1162, top:1207, bot:1401, d:il3, m:il3Med, tk:il3Ticks,
   segs:[[0,25,0,0.562],[26,99,0.784,1]], sig:[[0,1,0.99,'0.041','k'],[0,2,1.077,'<0.0001','k'],[0,3,1.17,'<0.0001','k'],[4,5,0.567,'0.0134','r'],[4,6,0.686,'0.002','r']]},
  {t:'IL-12/IL-23 p40', tx:1649, ty:1123, ax:1530, top:1207, bot:1402, d:il12, m:il12Med, tk:il12Ticks,
   segs:[[0,500,0,1]], sig:[[0,1,0.928,'0.06','k'],[0,2,1.026,'0.004','k'],[0,3,1.124,'0.0007','k'],[4,5,0.70,'0.0005','r']]},

  {t:'VEGF-A', tx:241, ty:1497, ax:113, top:1546, bot:1741, d:vegfa, m:vegfaMed, tk:vegfaTicks, lb:vegfaLabels, yt:true,
   segs:[[0,80000,0,1]], sig:[[0,1,0.70,'<0.0001','k'],[0,2,0.836,'<0.0001','k'],[4,5,0.964,'<0.0001','r']]},
  {t:'PlGF', tx:598, ty:1497, ax:481, top:1546, bot:1740, d:plgf, m:plgfMed, tk:plgfTicks,
   segs:[[0,300,0,0.562],[302,800,0.686,1]], sig:[[0,1,0.938,'<0.0001','k'],[4,5,0.862,'<0.0001','r']]},
  {t:'bFGF', tx:1016, ty:1497, ax:849, top:1547, bot:1740, d:bfgf, m:bfgfMed, tk:bfgfTicks,
   segs:[[0,800,0,0.565],[815,2000,0.668,1]], sig:[[0,1,1.0,'0.0013','k'],[0,2,1.113,'0.033','k'],[4,5,0.902,'<0.0001','r'],[4,6,1.03,'<0.0001','r']]},
  {t:'Tie-2', tx:1378, ty:1497, ax:1249, top:1547, bot:1741, d:tie2, m:tie2Med, tk:tie2Ticks,
   segs:[[0,300000,0,1]], sig:[[0,3,0.944,'<0.0001','k'],[4,5,0.703,'0.0134','r'],[4,6,0.83,'0.0013','r']]},

  {t:'Flt-1', tx:226, ty:1835, ax:110, top:1918, bot:2111, d:flt1, m:flt1Med, tk:flt1Ticks, yt:true,
   segs:[[0,5000,0,0.565],[5036,12000,0.663,1]], sig:[[0,1,1.01,'<0.0001','k'],[0,2,1.134,'0.003','k'],[4,5,0.90,'0.0019','r'],[4,6,1.01,'0.019','r']]},
  {t:'SAA', tx:613, ty:1835, ax:476, top:1918, bot:2112, d:saa, m:saaMed, tk:saaTicks, lb:saaLabels, log:true,
   segs:[[5.71,10,0,1]], sig:[[0,1,0.856,'0.002','k'],[0,2,0.96,'<0.0001','k'],[0,3,1.05,'<0.0001','k'],[4,5,0.933,'0.003','r'],[4,6,1.06,'<0.0001','r']]},
  {t:'CRP', tx:973, ty:1835, ax:871, top:1918, bot:2112, d:crp, m:crpMed, tk:crpTicks, lb:crpLabels, big:true,
   segs:[[0,1e8,0,0.562],[1.08e8,6e8,0.696,1]], sig:[[0,1,1.0,'<0.0001','k'],[0,2,1.10,'0.0013','k'],[0,3,1.19,'0.0001','k'],[4,5,1.04,'<0.0001','r'],[4,6,1.165,'0.027','r']]}
];

const letters = [['A', 12, 16], ['B', 12, 388], ['C', 742, 388]];

const RED = '#f42b2b';
const CAT = 40, XMIN = -0.66, XMAX = 6.64;
const FONT = "'Liberation Sans', Arial, Helvetica, sans-serif";
Chart.defaults.font.family = FONT;
Chart.defaults.color = '#000';

const PCONF = new WeakMap();

function toFrac(segs, log, v) {
  if (log) v = Math.log10(Math.max(v, 1e-12));
  for (let i = 0; i < segs.length; i++) {
    const s = segs[i];
    if (v <= s[1] || i === segs.length - 1) {
      if (v < s[0] && i > 0) return s[2];
      return s[2] + (v - s[0]) / (s[1] - s[0]) * (s[3] - s[2]);
    }
  }
  return 0;
}

// y scale with broken segments (and optional log values)
class BrokenScale extends Chart.LinearScale {
  static id = 'broken';
  static defaults = {};
  cfg() { return PCONF.get(this.chart.canvas); }
  determineDataLimits() { this.min = 0; this.max = 1; }
  buildTicks() { return this.cfg().tk.map(v => ({ value: v })); }
  getPixelForValue(v) {
    if (v === null || v === undefined || isNaN(v)) return NaN;
    const c = this.cfg();
    return this.getPixelForDecimal(toFrac(c.segs, c.log, v));
  }
  getValueForPixel(px) { return this.getDecimalForPixel(px); }
}
Chart.register(BrokenScale);

// horizontal packing of the dots of one group (layout only)
function swarm(vals, gi, frac, H) {
  const D = 6.2, step = 3.1, maxOff = 19;
  const pts = vals.map(v => ({ v, y: frac(v) * H })).sort((a, b) => a.y - b.y);
  const placed = [];
  for (const p of pts) {
    let best = 0, bestD = -1;
    for (let k = 0; ; k++) {
      const off = (k % 2 ? 1 : -1) * Math.ceil(k / 2) * step;
      if (Math.abs(off) > maxOff) break;
      let m = Infinity;
      for (const q of placed) {
        const dy = q.y - p.y;
        if (Math.abs(dy) >= D) continue;
        const d = Math.hypot(q.x - off, dy);
        if (d < m) m = d;
      }
      if (m >= D) { best = off; bestD = m; break; }
      if (m > bestD) { bestD = m; best = off; }
    }
    placed.push({ x: best, y: p.y, v: p.v });
  }
  return placed.map(q => ({ x: gi + q.x / CAT, y: q.v }));
}

function decor(p) {
  return {
    id: 'decor',
    afterDraw(chart) {
      const ctx = chart.ctx, xs = chart.scales.x, ys = chart.scales.y, ca = chart.chartArea;
      const L = ca.left, tl = 17;
      ctx.save();
      ctx.strokeStyle = '#000';
      ctx.lineWidth = 2;
      // x axis line runs a little past the y axis, as in the original
      if (!p.big) {
        ctx.beginPath(); ctx.moveTo(L - tl, ca.bottom); ctx.lineTo(L, ca.bottom); ctx.stroke();
      }
      p.segs.forEach((s, i) => {
        const y0 = ys.getPixelForDecimal(s[2]), y1 = ys.getPixelForDecimal(s[3]);
        ctx.beginPath();
        ctx.moveTo(L, i === 0 ? y0 + 1 : y0);
        ctx.lineTo(L, y1 - (i === p.segs.length - 1 ? 1 : 0));
        ctx.stroke();
        if (i < p.segs.length - 1) {
          ctx.beginPath(); ctx.moveTo(L - tl, y1); ctx.lineTo(L + 1, y1); ctx.stroke();
        }
        if (i > 0) {
          ctx.beginPath(); ctx.moveTo(L - tl, y0); ctx.lineTo(L + 1, y0); ctx.stroke();
        }
      });
      // dotted separator between the two cohorts
      const xd = xs.getPixelForValue(3.5);
      ctx.lineWidth = 1;
      ctx.strokeStyle = '#444';
      ctx.setLineDash([2, 2]);
      ctx.beginPath(); ctx.moveTo(xd, ca.bottom); ctx.lineTo(xd, ys.getPixelForDecimal(1)); ctx.stroke();
      ctx.setLineDash([]);
      // comparison brackets
      ctx.font = (p.big ? 19 : 17) + 'px ' + FONT;
      ctx.textAlign = 'center';
      ctx.textBaseline = 'alphabetic';
      p.sig.forEach(([a, b, f, txt, c]) => {
        const col = c === 'r' ? RED : '#000';
        const y = ys.getPixelForDecimal(f);
        const x0 = xs.getPixelForValue(a - 0.14), x1 = xs.getPixelForValue(b + 0.05);
        ctx.strokeStyle = col; ctx.fillStyle = col; ctx.lineWidth = 2;
        ctx.beginPath(); ctx.moveTo(x0, y); ctx.lineTo(x1, y); ctx.stroke();
        ctx.fillText(txt, (x0 + x1) / 2, y - 4);
      });
      ctx.restore();
    }
  };
}

const fig = document.getElementById('fig');

function makePanel(p) {
  const left = p.yt ? 0 : p.ax - 92;
  const wy = p.ax - left;
  const ctop = p.top - 80;
  const padTop = p.top - ctop;
  const hx = 100;
  const W = wy + Math.round((XMAX - XMIN) * CAT) + 8;
  const H = (p.bot - ctop) + hx;
  const cv = document.createElement('canvas');
  cv.width = W; cv.height = H;
  cv.style.left = left + 'px'; cv.style.top = ctop + 'px';
  cv.style.width = W + 'px'; cv.style.height = H + 'px';
  fig.appendChild(cv);
  PCONF.set(cv, p);

  const axH = p.bot - p.top;
  const frac = v => toFrac(p.segs, p.log, v);
  const datasets = p.d.map((vals, gi) => {
    const col = gi >= 4 ? RED : '#000';
    return {
      data: swarm(vals, gi, frac, axH),
      pointStyle: 'circle', pointRadius: 3, pointHoverRadius: 3, pointBorderWidth: 1.35,
      pointBorderColor: col, borderColor: col, pointBackgroundColor: 'rgba(255,255,255,0)',
      backgroundColor: 'rgba(255,255,255,0)', clip: false
    };
  });
  datasets.push({
    data: p.m.map((v, gi) => ({ x: gi, y: v })),
    pointStyle: 'line', pointRadius: 14, pointHoverRadius: 14, pointBorderWidth: 3.2,
    pointBorderColor: '#000', borderColor: '#000', clip: false
  });
  const labels = p.lb || p.tk.map(v => String(v));

  new Chart(cv, {
    type: 'scatter',
    data: { datasets },
    options: {
      responsive: false, animation: false, events: [],
      layout: { padding: { left: 0, top: padTop, right: 8, bottom: 0 } },
      plugins: { legend: { display: false }, tooltip: { enabled: false } },
      scales: {
        x: {
          type: 'linear', min: XMIN, max: XMAX,
          afterBuildTicks: s => { s.ticks = groups.map((g, i) => ({ value: i })); },
          afterFit: s => { s.height = hx; },
          grid: { display: true, drawOnChartArea: false, drawTicks: true, tickLength: 11, color: '#000', lineWidth: 2 },
          border: { display: true, color: '#000', width: 2 },
          ticks: { autoSkip: false, minRotation: 45, maxRotation: 45, padding: 2, color: '#000',
            font: { size: p.big ? 24 : 22 }, callback: v => groups[v] }
        },
        y: {
          type: 'broken',
          afterFit: s => { s.width = wy; },
          grid: { display: true, drawOnChartArea: false, drawTicks: true, tickLength: 17, color: '#000', lineWidth: 2 },
          border: { display: false },
          ticks: { autoSkip: false, padding: 4, color: '#000', font: { size: p.big ? 21 : 21 },
            callback: (v, i) => labels[i] },
          title: { display: !!p.yt, text: 'pg/ml', color: '#000', font: { size: 24 }, padding: { top: 6, bottom: 0 } }
        }
      }
    },
    plugins: [decor(p)]
  });

  const tt = document.createElement('div');
  tt.className = 'ttl';
  tt.textContent = p.t;
  tt.style.left = p.tx + 'px';
  tt.style.top = p.ty + 'px';
  fig.appendChild(tt);
}

panels.forEach(makePanel);

letters.forEach(([s, x, y]) => {
  const el = document.createElement('div');
  el.className = 'let';
  el.textContent = s;
  el.style.left = x + 'px';
  el.style.top = y + 'px';
  fig.appendChild(el);
});
</script>
</body>
</html>
